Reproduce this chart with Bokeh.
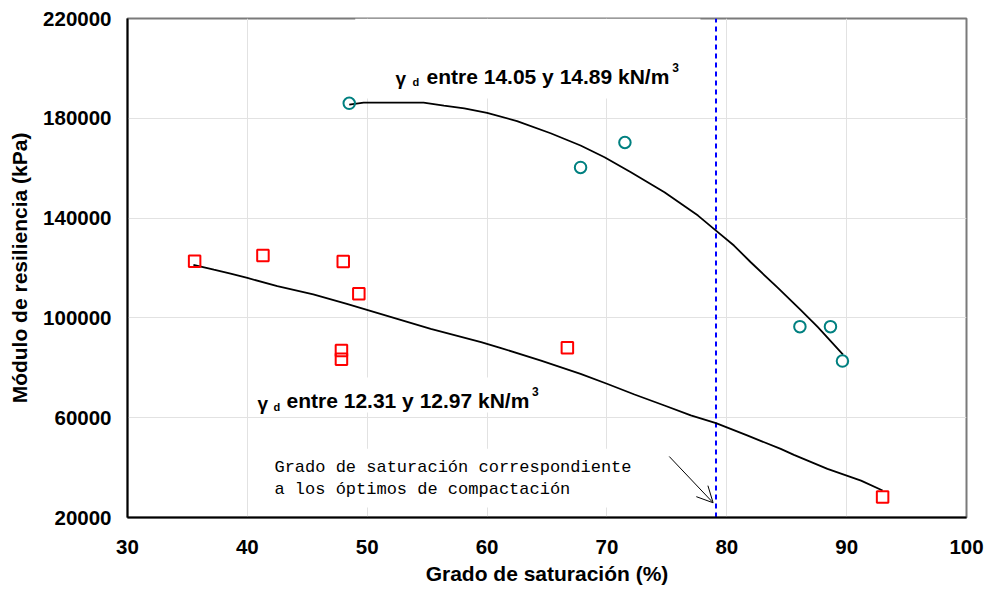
from bokeh.plotting import figure
from bokeh.models import FixedTicker, Label, Arrow, OpenHead, BoxAnnotation
from bokeh.embed import file_html
from bokeh.resources import INLINE

# ---------------- data ----------------
# Circles: gamma_d between 14.05 and 14.89 kN/m3
circ_x = [48.5, 67.8, 71.5, 86.1, 88.65, 89.65]
circ_y = [186000, 160300, 170300, 96500, 96500, 82700]

# Squares: gamma_d between 12.31 and 12.97 kN/m3
sq_x = [35.6, 41.3, 48.0, 49.3, 47.85, 47.85, 66.7, 93.0]
sq_y = [122700, 125000, 122600, 109700, 86900, 83400, 88000, 28200]

# Trend curve (upper group)
up_x = [48.5, 49.7, 54.7, 56.4, 58.1, 60.0, 62.5, 65.3, 67.8, 69.8, 72.0,
        74.8, 77.6, 79.1, 80.6, 82.0, 84.2, 86.2, 87.6, 89.7]
up_y = [185500, 186300, 186300, 185100, 184000, 182200, 178900, 174000,
        169100, 164400, 158400, 150400, 141000, 135000, 129000, 122300,
        112300, 103000, 96300, 85300]

# Trend curve (lower group)
lo_x = [35.5, 37.2, 38.6, 40.0, 42.5, 45.5, 48.3, 51.1, 55.3, 59.5, 61.1,
        64.5, 67.8, 70.0, 72.3, 74.8, 77.0, 79.1, 81.7, 84.5, 85.6, 88.4,
        91.2, 93.0]
lo_y = [121300, 119300, 117700, 116000, 112700, 109400, 105600, 101600,
        95600, 90300, 88000, 82900, 77600, 73600, 69300, 64900, 60900,
        57800, 52900, 47500, 45100, 39500, 34800, 30800]

# Saturation at compaction optimum (vertical line)
opt_x = [79.1, 79.1]
opt_y = [20000, 220000]

x_ticks = [30, 40, 50, 60, 70, 80, 90, 100]
x_tick_labels = ["30", "40", "50", "60", "70", "80", "90", "100"]
y_ticks = [20000, 60000, 100000, 140000, 180000, 220000]
y_tick_labels = ["20000", "60000", "100000", "140000", "180000", "220000"]

x_title = "Grado de saturación (%)"
y_title = "Módulo de resiliencia (kPa)"

# ---------------- figure ----------------
p = figure(width=984, height=590, x_range=(30, 100), y_range=(20000, 220000),
           output_backend="svg", toolbar_location=None,
           min_border_left=127, min_border_right=18,
           min_border_top=18, min_border_bottom=73)
p.background_fill_color = "white"
p.border_fill_color = "white"
p.outline_line_color = "#7a7a7a"
p.outline_line_width = 2

xt = FixedTicker(ticks=x_ticks)
yt = FixedTicker(ticks=y_ticks)
p.xaxis.ticker = xt
p.yaxis.ticker = yt
p.xgrid.ticker = xt
p.ygrid.ticker = yt
for g in (p.xgrid[0], p.ygrid[0]):
    g.grid_line_color = "#e2e2e2"
    g.grid_line_width = 1

p.xaxis.major_label_overrides = dict(zip(x_ticks, x_tick_labels))
p.yaxis.major_label_overrides = dict(zip(y_ticks, y_tick_labels))

for ax in (p.xaxis[0], p.yaxis[0]):
    ax.major_tick_line_color = None
    ax.minor_tick_line_color = None
    ax.major_tick_out = 0
    ax.major_tick_in = 0
    ax.axis_line_color = "black"
    ax.axis_line_width = 2
    ax.major_label_text_font = "Liberation Sans"
    ax.major_label_text_font_style = "bold"
    ax.major_label_text_font_size = "20.5px"
    ax.major_label_text_color = "black"
    ax.axis_label_text_font = "Liberation Sans"
    ax.axis_label_text_font_style = "bold"
    ax.axis_label_text_font_size = "21px"
    ax.axis_label_text_color = "black"

p.xaxis.axis_label = x_title
p.yaxis.axis_label = y_title
p.xaxis.major_label_standoff = 22
p.xaxis.axis_label_standoff = 5
p.yaxis.major_label_standoff = 16
p.yaxis.axis_label_standoff = 9

# white text boxes (hide gridlines behind labels)
for (l, r, b, t) in [(49.0, 77.8, 187900, 220000),
                     (40.45, 65.1, 62100, 76100),
                     (41.4, 73.2, 24000, 47600)]:
    p.add_layout(BoxAnnotation(left=l, right=r, bottom=b, top=t,
                               fill_color="white", fill_alpha=1.0,
                               line_alpha=0, level="underlay"))

# ---------------- marks ----------------
p.line(opt_x, opt_y, line_color="#0000ff", line_width=2, line_dash="5 4")
p.line(up_x, up_y, line_color="black", line_width=1.8)
p.line(lo_x, lo_y, line_color="black", line_width=1.8)
p.scatter(circ_x, circ_y, marker="circle", size=11.5, fill_color=None,
          line_color="#008080", line_width=2)
p.scatter(sq_x, sq_y, marker="square", size=11.5, fill_color=None,
          line_color="#ff0000", line_width=2)

# ---------------- labels ----------------
def lab(x, y, text, size, style="bold", font="Liberation Sans"):
    p.add_layout(Label(x=x, y=y, text=text, text_font=font,
                       text_font_style=style, text_font_size=size,
                       text_color="black", text_align="left",
                       text_baseline="alphabetic"))

# upper group label
lab(52.36, 195900, "γ", "19px")
lab(53.78, 194350, "d", "11px")
lab(54.95, 196750, "entre 14.05 y 14.89 kN/m", "21px")
lab(75.45, 200300, "3", "12px")

# lower group label
lab(40.85, 65700, "γ", "19px")
lab(42.18, 64100, "d", "11px")
lab(43.27, 66900, "entre 12.31 y 12.97 kN/m", "21px")
lab(63.75, 70500, "3", "12px")

# annotation
lab(42.26, 40000, "Grado de saturación correspondiente", "17px",
    style="normal", font="Liberation Mono")
lab(42.26, 31200, "a los óptimos de compactación", "17px",
    style="normal", font="Liberation Mono")

p.add_layout(Arrow(end=OpenHead(size=16, line_width=1, line_color="black"),
                   x_start=75.2, y_start=44450, x_end=78.86, y_end=25900,
                   line_width=1, line_color="black"))

open("out.html", "w").write(file_html(p, INLINE))
